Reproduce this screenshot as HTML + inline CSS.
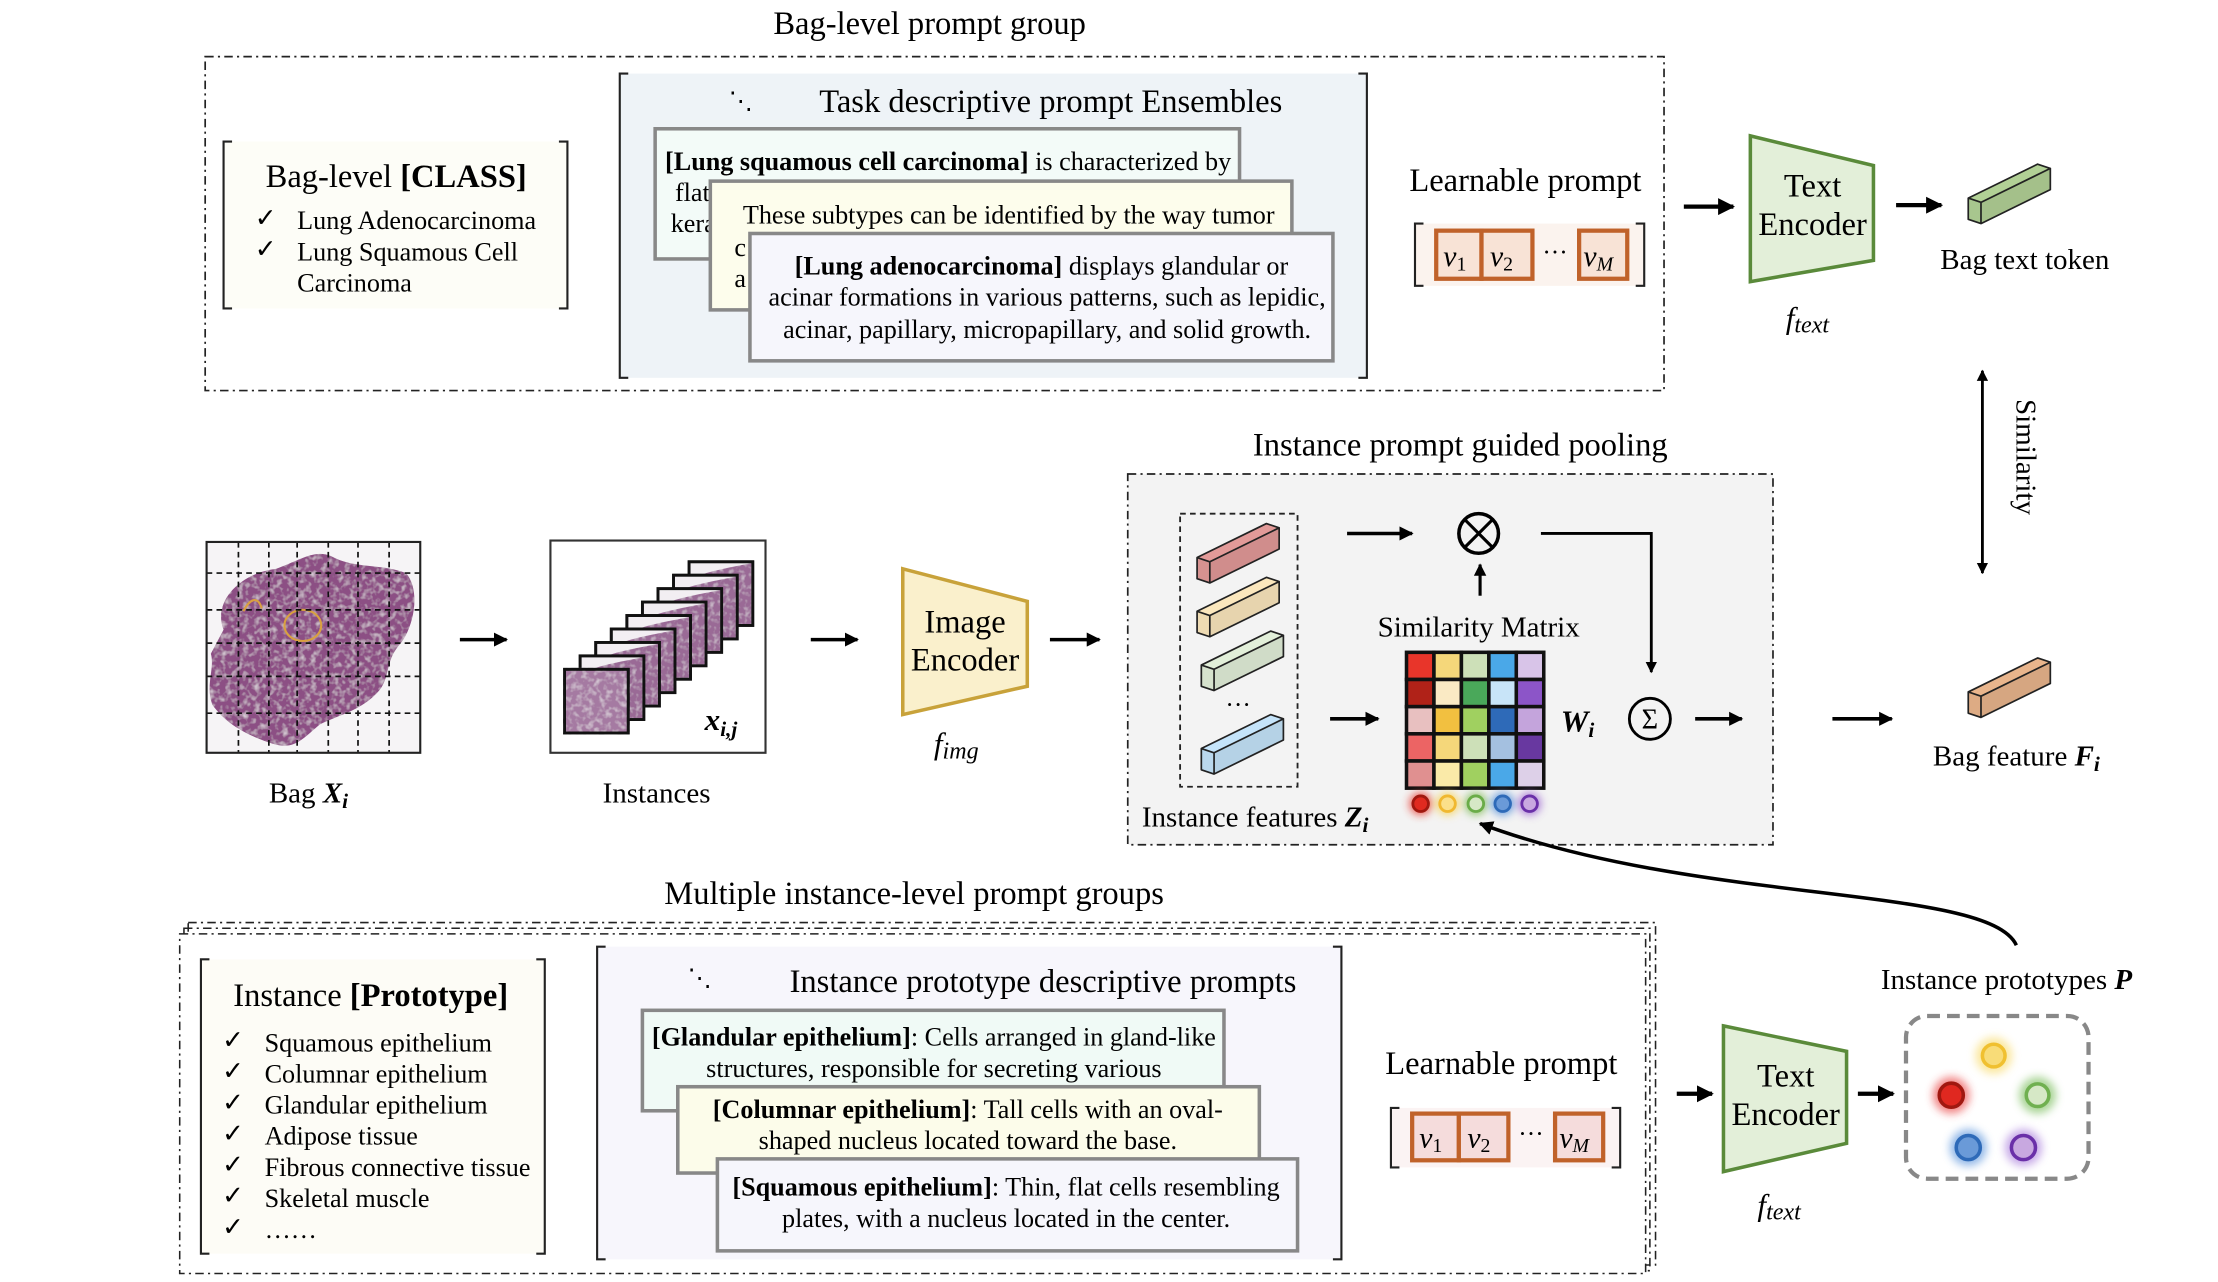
<!DOCTYPE html>
<html><head><meta charset="utf-8"><style>
html,body{margin:0;padding:0;background:#fff}
svg{display:block}
text{font-family:"Liberation Serif",serif;fill:#000}
</style></head><body>
<svg width="2218" height="1282" viewBox="0 0 1567.5 906" xmlns="http://www.w3.org/2000/svg">
<defs>
<marker id="ah" viewBox="0 0 10 10" refX="9" refY="5" markerWidth="4" markerHeight="4" orient="auto-start-reverse"><path d="M0,0L10,5L0,10z" fill="#000"/></marker>
<filter id="glow" x="-1" y="-1" width="3" height="3"><feGaussianBlur stdDeviation="3"/></filter>
<filter id="tex"><feTurbulence type="fractalNoise" baseFrequency="0.25" numOctaves="2" result="n"/><feColorMatrix in="n" type="matrix" values="0 0 0 0 1  0 0 0 0 1  0 0 0 0 1  0 0 0 -1.2 0.65" result="w"/><feComposite in="w" in2="SourceGraphic" operator="in" result="wm"/><feMerge><feMergeNode in="SourceGraphic"/><feMergeNode in="wm"/></feMerge></filter>
<g id="bar">
<polygon points="0,0 49,-24 58,-21 9,3" fill="currentColor"/>
<polygon points="9,3 58,-21 58,-6 9,18" fill="currentColor"/>
<polygon points="9,3 58,-21 58,-6 9,18" fill="#000" opacity="0.08"/>
<polygon points="0,0 9,3 9,18 0,15" fill="currentColor"/>
<polygon points="0,0 9,3 9,18 0,15" fill="#000" opacity="0.05"/>
<path d="M0,0L49,-24L58,-21L9,3Z M9,3L9,18L58,-6L58,-21 M0,0L0,15L9,18" fill="none" stroke="#222" stroke-width="1.2" stroke-linejoin="round"/>
</g>
<g id="tile">
<rect x="0" y="0" width="45" height="45" fill="#f2eef2" stroke="#111" stroke-width="2"/>
<path d="M1,12 C15,6 30,4 44,1 L44,44 L1,44 Z" fill="#9a6a96" filter="url(#tex)"/>
<rect x="0" y="0" width="45" height="45" fill="none" stroke="#111" stroke-width="2"/>
</g>
</defs>

<!-- ===== TOP ===== -->
<text x="657" y="24" font-size="23" text-anchor="middle">Bag-level prompt group</text>
<rect x="145" y="40" width="1031" height="236" fill="none" stroke="#222" stroke-width="1.2" stroke-dasharray="6,3,1.5,3"/>

<rect x="158" y="100" width="243" height="118" fill="#fdfdf7"/>
<path d="M164,100H158V218H164 M395,100H401V218H395" fill="none" stroke="#222" stroke-width="1.5"/>
<text x="280" y="132" font-size="23" text-anchor="middle">Bag-level <tspan font-weight="bold">[CLASS]</tspan></text>
<text x="180" y="160" font-size="18.5">✓</text><text x="210" y="162" font-size="18.5">Lung Adenocarcinoma</text>
<text x="180" y="182" font-size="18.5">✓</text><text x="210" y="184" font-size="18.5">Lung Squamous Cell</text>
<text x="210" y="206" font-size="18.5">Carcinoma</text>

<rect x="438" y="52" width="528" height="215" fill="#eef3f7"/>
<path d="M444,52H438V267H444 M960,52H966V267H960" fill="none" stroke="#222" stroke-width="1.5"/>
<text x="515" y="77" font-size="17">⋱</text>
<text x="579" y="79" font-size="23">Task descriptive prompt Ensembles</text>

<rect x="463" y="91" width="413" height="92" fill="#f3fbf8" stroke="#888" stroke-width="2.5"/>
<text x="470" y="120" font-size="18.5"><tspan font-weight="bold">[Lung squamous cell carcinoma]</tspan> is characterized by</text>
<text x="477" y="142" font-size="18.5">flat</text>
<text x="474" y="164" font-size="18.5">kera</text>
<rect x="502" y="128" width="411" height="91" fill="#fdfdec" stroke="#888" stroke-width="2.5"/>
<text x="525" y="158" font-size="18.5">These subtypes can be identified by the way tumor</text>
<text x="519" y="181" font-size="18.5">c</text>
<text x="519" y="203" font-size="18.5">a</text>
<rect x="530" y="165" width="412" height="90" fill="#f6f6fc" stroke="#888" stroke-width="2.5"/>
<text x="736" y="194" font-size="18.5" text-anchor="middle"><tspan font-weight="bold">[Lung adenocarcinoma]</tspan> displays glandular or</text>
<text x="740" y="216" font-size="18.5" text-anchor="middle">acinar formations in various patterns, such as lepidic,</text>
<text x="740" y="239" font-size="18.5" text-anchor="middle">acinar, papillary, micropapillary, and solid growth.</text>

<text x="996" y="135" font-size="23">Learnable prompt</text>
<rect x="1000" y="158" width="162" height="44" fill="#fbf3ee"/>
<path d="M1006,158H1000V202H1006 M1156,158H1162V202H1156" fill="none" stroke="#222" stroke-width="1.5"/>
<g fill="#f8e3d6" stroke="#c0622a" stroke-width="3">
<rect x="1015" y="163" width="32" height="34"/><rect x="1047" y="163" width="36" height="34"/><rect x="1116" y="163" width="34" height="34"/></g>
<g font-size="21" font-style="italic"><text x="1020" y="188">v<tspan font-size="14" font-style="normal" dy="3">1</tspan></text>
<text x="1053" y="188">v<tspan font-size="14" font-style="normal" dy="3">2</tspan></text>
<text x="1119" y="188">v<tspan font-size="14" dy="3">M</tspan></text></g>
<text x="1090" y="184" font-size="18">···</text>

<line x1="1190" y1="146" x2="1225" y2="146" stroke="#000" stroke-width="3" marker-end="url(#ah)"/>
<polygon points="1237,96 1324,117 1324,184 1237,199" fill="#e3efd9" stroke="#5a8a3a" stroke-width="2.5"/>
<text x="1281" y="139" font-size="23" text-anchor="middle">Text</text>
<text x="1281" y="166" font-size="23" text-anchor="middle">Encoder</text>
<text x="1262" y="232" font-size="22" font-style="italic">f<tspan font-size="17" dy="3">text</tspan></text>
<line x1="1340" y1="145" x2="1372" y2="145" stroke="#000" stroke-width="3" marker-end="url(#ah)"/>
<use href="#bar" x="1391" y="140" color="#b2d196"/>
<text x="1431" y="190" font-size="20.5" text-anchor="middle">Bag text token</text>

<line x1="1401" y1="262" x2="1401" y2="405" stroke="#000" stroke-width="2" marker-start="url(#ah)" marker-end="url(#ah)"/>
<text x="0" y="0" font-size="20.5" text-anchor="middle" transform="translate(1425,323) rotate(90)">Similarity</text>

<!-- ===== MIDDLE ===== -->
<text x="1032" y="322" font-size="23" text-anchor="middle">Instance prompt guided pooling</text>
<rect x="797" y="335" width="456" height="262" fill="#f3f3f3" stroke="#222" stroke-width="1.2" stroke-dasharray="6,3,1.5,3"/>

<!-- WSI -->
<rect x="146" y="383" width="151" height="149" fill="#f6f4f6"/>
<path d="M158,445 C150,425 170,405 195,402 C212,396 222,388 234,393 C250,402 268,398 287,405 C298,418 292,445 282,456 C272,468 276,478 268,488 C256,502 240,505 226,512 C214,522 208,530 194,526 C175,520 160,512 150,498 C145,484 152,472 149,462 Z" fill="#8c4f84" filter="url(#tex)"/>
<ellipse cx="214" cy="442" rx="13" ry="11" fill="none" stroke="#d9a040" stroke-width="1.5"/>
<path d="M172,432 C176,424 182,420 185,430" fill="none" stroke="#d9a040" stroke-width="1.5"/>
<g stroke="#111" stroke-width="1.2" stroke-dasharray="4,3">
<line x1="168.5" y1="383" x2="168.5" y2="532"/><line x1="190" y1="383" x2="190" y2="532"/><line x1="210" y1="383" x2="210" y2="532"/><line x1="232" y1="383" x2="232" y2="532"/><line x1="253" y1="383" x2="253" y2="532"/><line x1="275" y1="383" x2="275" y2="532"/>
<line x1="146" y1="405" x2="297" y2="405"/><line x1="146" y1="431" x2="297" y2="431"/><line x1="146" y1="454.5" x2="297" y2="454.5"/><line x1="146" y1="478" x2="297" y2="478"/><line x1="146" y1="504" x2="297" y2="504"/></g>
<rect x="146" y="383" width="151" height="149" fill="none" stroke="#222" stroke-width="1.5"/>
<text x="190" y="567" font-size="20.5">Bag <tspan font-weight="bold" font-style="italic">X<tspan font-size="15" dy="4">i</tspan></tspan></text>

<line x1="325" y1="452" x2="358" y2="452" stroke="#000" stroke-width="2.5" marker-end="url(#ah)"/>

<rect x="389" y="382" width="152" height="150" fill="#fff" stroke="#333" stroke-width="1.5"/>
<use href="#tile" x="487" y="397"/><use href="#tile" x="476" y="406.5"/><use href="#tile" x="465" y="416"/><use href="#tile" x="454" y="425.5"/><use href="#tile" x="443" y="435"/><use href="#tile" x="432" y="444.5"/><use href="#tile" x="421" y="454"/><use href="#tile" x="410" y="463.5"/>
<rect x="399" y="473" width="45" height="45" fill="#a57aa2" stroke="#111" stroke-width="2" filter="url(#tex)"/>
<rect x="399" y="473" width="45" height="45" fill="none" stroke="#111" stroke-width="2"/>
<text x="498" y="516" font-size="22" font-weight="bold" font-style="italic">x<tspan font-size="15" dy="4">i,j</tspan></text>
<text x="464" y="567" font-size="20.5" text-anchor="middle">Instances</text>

<line x1="573" y1="452" x2="606" y2="452" stroke="#000" stroke-width="2.5" marker-end="url(#ah)"/>
<polygon points="638,402 726,425 726,485 638,505" fill="#faf0cc" stroke="#c8a23a" stroke-width="2.5"/>
<text x="682" y="447" font-size="23" text-anchor="middle">Image</text>
<text x="682" y="474" font-size="23" text-anchor="middle">Encoder</text>
<text x="660" y="533" font-size="22" font-style="italic">f<tspan font-size="17" dy="3">img</tspan></text>
<line x1="742" y1="452" x2="777" y2="452" stroke="#000" stroke-width="2.5" marker-end="url(#ah)"/>

<rect x="834" y="363" width="83" height="193" fill="none" stroke="#222" stroke-width="1.3" stroke-dasharray="4,3"/>
<use href="#bar" x="846" y="394" color="#e29a98"/>
<use href="#bar" x="846" y="432" color="#fbe7bd"/>
<use href="#bar" x="849" y="470" color="#e2efd9"/>
<text x="866" y="504" font-size="18">···</text>
<use href="#bar" x="849" y="529" color="#c5e4fa"/>
<text x="807" y="584" font-size="20.5">Instance features <tspan font-weight="bold" font-style="italic">Z<tspan font-size="15" dy="4">i</tspan></tspan></text>

<line x1="952" y1="377" x2="998" y2="377" stroke="#000" stroke-width="2.5" marker-end="url(#ah)"/>
<circle cx="1045" cy="377" r="14" fill="none" stroke="#000" stroke-width="2.5"/>
<path d="M1035,367L1055,387M1055,367L1035,387" stroke="#000" stroke-width="2.2"/>
<line x1="1046" y1="421" x2="1046" y2="399" stroke="#000" stroke-width="2.2" marker-end="url(#ah)"/>
<path d="M1089,377H1167V475" fill="none" stroke="#000" stroke-width="2" marker-end="url(#ah)"/>
<text x="1045" y="450" font-size="20.5" text-anchor="middle">Similarity Matrix</text>
<line x1="940" y1="508" x2="974" y2="508" stroke="#000" stroke-width="2.5" marker-end="url(#ah)"/>

<g stroke="#111" stroke-width="2.5">
<rect x="994" y="461" width="19.4" height="19.2" fill="#e8352a"/><rect x="1013.4" y="461" width="19.4" height="19.2" fill="#f5d77a"/><rect x="1032.8" y="461" width="19.4" height="19.2" fill="#cde0b8"/><rect x="1052.2" y="461" width="19.4" height="19.2" fill="#4aa8e8"/><rect x="1071.6" y="461" width="19.4" height="19.2" fill="#d8c4e8"/>
<rect x="994" y="480.2" width="19.4" height="19.2" fill="#b02218"/><rect x="1013.4" y="480.2" width="19.4" height="19.2" fill="#faeac4"/><rect x="1032.8" y="480.2" width="19.4" height="19.2" fill="#4aa85a"/><rect x="1052.2" y="480.2" width="19.4" height="19.2" fill="#c8e4f8"/><rect x="1071.6" y="480.2" width="19.4" height="19.2" fill="#8c55c8"/>
<rect x="994" y="499.4" width="19.4" height="19.2" fill="#e8c0c0"/><rect x="1013.4" y="499.4" width="19.4" height="19.2" fill="#f2c040"/><rect x="1032.8" y="499.4" width="19.4" height="19.2" fill="#a0d060"/><rect x="1052.2" y="499.4" width="19.4" height="19.2" fill="#2e6ab8"/><rect x="1071.6" y="499.4" width="19.4" height="19.2" fill="#c4a4dc"/>
<rect x="994" y="518.6" width="19.4" height="19.2" fill="#ec6464"/><rect x="1013.4" y="518.6" width="19.4" height="19.2" fill="#f5d77a"/><rect x="1032.8" y="518.6" width="19.4" height="19.2" fill="#cde0b8"/><rect x="1052.2" y="518.6" width="19.4" height="19.2" fill="#a4c0e0"/><rect x="1071.6" y="518.6" width="19.4" height="19.2" fill="#6838a0"/>
<rect x="994" y="537.8" width="19.4" height="19.2" fill="#e09090"/><rect x="1013.4" y="537.8" width="19.4" height="19.2" fill="#faeaa8"/><rect x="1032.8" y="537.8" width="19.4" height="19.2" fill="#a0d060"/><rect x="1052.2" y="537.8" width="19.4" height="19.2" fill="#4aa8e8"/><rect x="1071.6" y="537.8" width="19.4" height="19.2" fill="#ddd0e8"/>
</g>
<g filter="url(#glow)" opacity="0.8"><circle cx="1004" cy="568" r="8" fill="#e8352a"/><circle cx="1023" cy="568" r="8" fill="#f5d050"/><circle cx="1043" cy="568" r="8" fill="#7ab850"/><circle cx="1062" cy="568" r="8" fill="#4a88d8"/><circle cx="1081" cy="568" r="8" fill="#9a60d0"/></g>
<g stroke-width="2"><circle cx="1004" cy="568" r="5.5" fill="#e02a20" stroke="#a01810"/><circle cx="1023" cy="568" r="5.5" fill="#fbe08a" stroke="#f0b830"/><circle cx="1043" cy="568" r="5.5" fill="#d6e8c6" stroke="#6aac48"/><circle cx="1062" cy="568" r="5.5" fill="#6a9ad8" stroke="#2e6ab8"/><circle cx="1081" cy="568" r="5.5" fill="#c8a8e0" stroke="#6a30a8"/></g>

<text x="1103" y="517" font-size="22" font-weight="bold" font-style="italic">W<tspan font-size="15" dy="4">i</tspan></text>
<circle cx="1166" cy="508" r="14.5" fill="none" stroke="#000" stroke-width="2"/>
<text x="1166" y="515" font-size="20" text-anchor="middle">Σ</text>
<line x1="1198" y1="508" x2="1231" y2="508" stroke="#000" stroke-width="2.5" marker-end="url(#ah)"/>
<line x1="1295" y1="508" x2="1337" y2="508" stroke="#000" stroke-width="2.5" marker-end="url(#ah)"/>
<use href="#bar" x="1391" y="489" color="#e9b58c"/>
<text x="1366" y="541" font-size="20.5">Bag feature <tspan font-weight="bold" font-style="italic">F<tspan font-size="15" dy="4">i</tspan></tspan></text>

<path d="M1425,668 C1405,625 1200,640 1046,582" fill="none" stroke="#000" stroke-width="2.5" marker-end="url(#ah)"/>

<!-- ===== BOTTOM ===== -->
<text x="646" y="639" font-size="23" text-anchor="middle">Multiple instance-level prompt groups</text>
<g fill="none" stroke="#222" stroke-width="1.1" stroke-dasharray="6,3,1.5,3">
<rect x="133" y="652" width="1037" height="242"/>
<rect x="130" y="656" width="1036" height="242"/>
<rect x="127" y="660" width="1036" height="240" fill="#fff"/></g>

<rect x="142" y="678" width="243" height="208" fill="#fdfcf6"/>
<path d="M148,678H142V886H148 M379,678H385V886H379" fill="none" stroke="#222" stroke-width="1.5"/>
<text x="262" y="711" font-size="23" text-anchor="middle">Instance <tspan font-weight="bold">[Prototype]</tspan></text>
<g font-size="18.5">
<text x="157" y="741">✓</text><text x="187" y="743">Squamous epithelium</text>
<text x="157" y="763">✓</text><text x="187" y="765">Columnar epithelium</text>
<text x="157" y="785">✓</text><text x="187" y="787">Glandular epithelium</text>
<text x="157" y="807">✓</text><text x="187" y="809">Adipose tissue</text>
<text x="157" y="829">✓</text><text x="187" y="831">Fibrous connective tissue</text>
<text x="157" y="851">✓</text><text x="187" y="853">Skeletal muscle</text>
<text x="157" y="873">✓</text><text x="187" y="875">……</text></g>

<rect x="422" y="669" width="526" height="221" fill="#f7f6fc"/>
<path d="M428,669H422V890H428 M942,669H948V890H942" fill="none" stroke="#222" stroke-width="1.5"/>
<text x="486" y="697" font-size="17">⋱</text>
<text x="558" y="701" font-size="23">Instance prototype descriptive prompts</text>

<rect x="454" y="714" width="411" height="71" fill="#f0faf6" stroke="#888" stroke-width="2.5"/>
<text x="660" y="739" font-size="18.5" text-anchor="middle"><tspan font-weight="bold">[Glandular epithelium]</tspan>: Cells arranged in gland-like</text>
<text x="660" y="761" font-size="18.5" text-anchor="middle">structures, responsible for secreting various</text>
<rect x="479" y="768" width="411" height="61" fill="#fcfcea" stroke="#888" stroke-width="2.5"/>
<text x="684" y="790" font-size="18.5" text-anchor="middle"><tspan font-weight="bold">[Columnar epithelium]</tspan>: Tall cells with an oval-</text>
<text x="684" y="812" font-size="18.5" text-anchor="middle">shaped nucleus located toward the base.</text>
<rect x="507" y="819" width="410" height="65" fill="#f6f6fc" stroke="#888" stroke-width="2.5"/>
<text x="711" y="845" font-size="18.5" text-anchor="middle"><tspan font-weight="bold">[Squamous epithelium]</tspan>: Thin, flat cells resembling</text>
<text x="711" y="867" font-size="18.5" text-anchor="middle">plates, with a nucleus located in the center.</text>

<text x="979" y="759" font-size="23">Learnable prompt</text>
<rect x="983" y="783" width="162" height="42" fill="#fbf3f3"/>
<path d="M989,783H983V825H989 M1139,783H1145V825H1139" fill="none" stroke="#222" stroke-width="1.5"/>
<g fill="#f5dcdc" stroke="#c0622a" stroke-width="3">
<rect x="998" y="787" width="33" height="33"/><rect x="1031" y="787" width="35" height="33"/><rect x="1099" y="787" width="34" height="33"/></g>
<g font-size="21" font-style="italic"><text x="1003" y="811">v<tspan font-size="14" font-style="normal" dy="3">1</tspan></text>
<text x="1037" y="811">v<tspan font-size="14" font-style="normal" dy="3">2</tspan></text>
<text x="1102" y="811">v<tspan font-size="14" dy="3">M</tspan></text></g>
<text x="1073" y="807" font-size="18">···</text>

<line x1="1185" y1="773" x2="1210" y2="773" stroke="#000" stroke-width="3" marker-end="url(#ah)"/>
<polygon points="1218,725 1305,743 1305,808 1218,828" fill="#e3efd9" stroke="#5a8a3a" stroke-width="2.5"/>
<text x="1262" y="768" font-size="23" text-anchor="middle">Text</text>
<text x="1262" y="795" font-size="23" text-anchor="middle">Encoder</text>
<text x="1242" y="859" font-size="22" font-style="italic">f<tspan font-size="17" dy="3">text</tspan></text>
<line x1="1313" y1="773" x2="1338" y2="773" stroke="#000" stroke-width="3" marker-end="url(#ah)"/>

<text x="1418" y="699" font-size="20.5" text-anchor="middle">Instance prototypes <tspan font-weight="bold" font-style="italic">P</tspan></text>
<rect x="1347" y="718" width="129" height="115" rx="15" fill="none" stroke="#888" stroke-width="3" stroke-dasharray="9,5"/>
<g filter="url(#glow)" opacity="0.6"><circle cx="1409" cy="746" r="13" fill="#f8d860"/><circle cx="1379" cy="774" r="13" fill="#e83030"/><circle cx="1440" cy="774" r="13" fill="#70b850"/><circle cx="1391" cy="811" r="13" fill="#4a88d8"/><circle cx="1430" cy="811" r="13" fill="#a070d8"/></g>
<g stroke-width="2.5"><circle cx="1409" cy="746" r="8" fill="#f8dc78" stroke="#f0c030"/><circle cx="1379" cy="774" r="8.5" fill="#e02820" stroke="#a01810"/><circle cx="1440" cy="774" r="8" fill="#d6e8c6" stroke="#70b050"/><circle cx="1391" cy="811" r="8.5" fill="#6a9ad8" stroke="#2e6ab8"/><circle cx="1430" cy="811" r="8.5" fill="#c8a8e0" stroke="#6a30a8"/></g>
</svg>
</body></html>
